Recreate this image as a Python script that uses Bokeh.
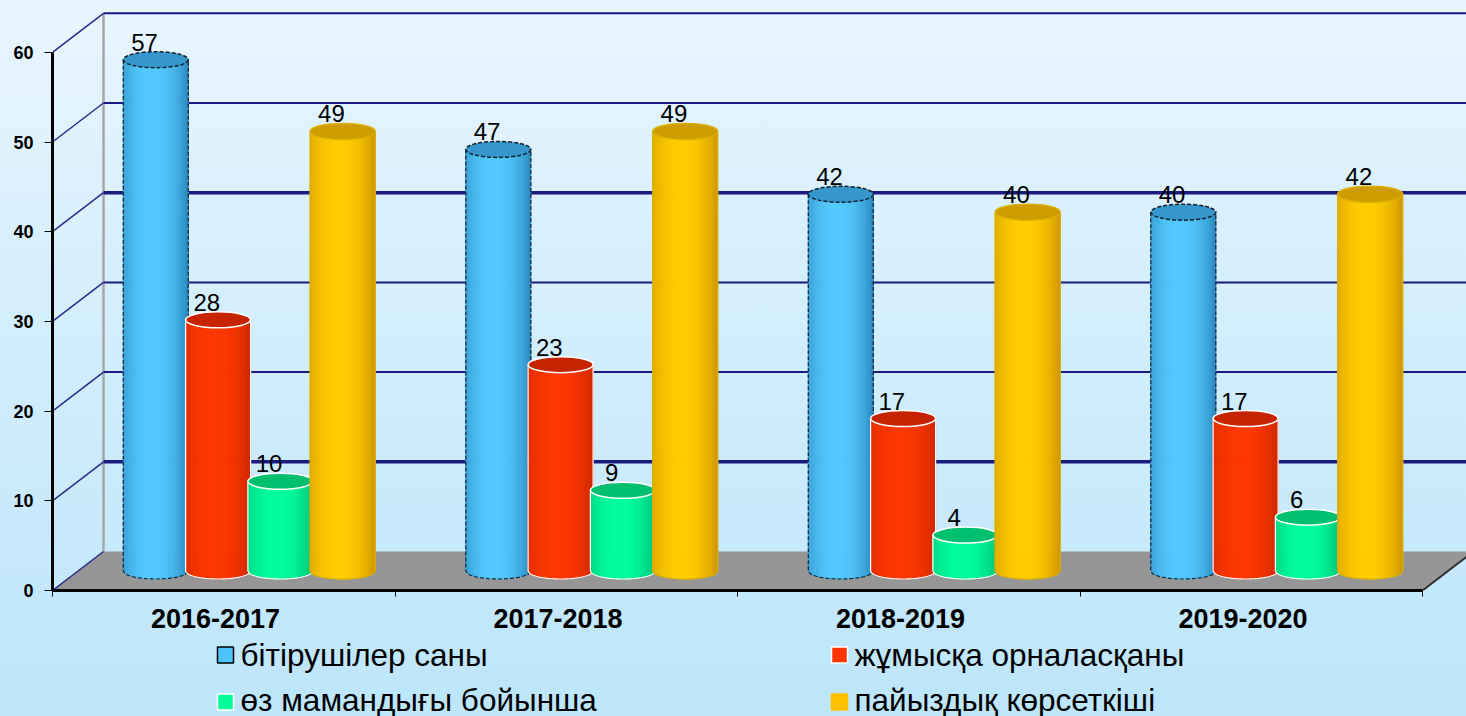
import math
from bokeh.plotting import figure
from bokeh.layouts import column
from bokeh.models import Range1d, FixedTicker
from bokeh.embed import file_html
from bokeh.resources import INLINE
from bokeh.core.properties import value

# ---------------- data ----------------
categories = ["2016-2017", "2017-2018", "2018-2019", "2019-2020"]
series_names = ["бітірушілер саны", "жұмысқа орналасқаны",
                "өз мамандығы бойынша", "пайыздық көрсеткіші"]
graduates = [57, 47, 42, 40]
employed = [28, 23, 17, 17]
by_specialty = [10, 9, 4, 6]
percent = [49, 49, 40, 42]
y_ticks = [0, 10, 20, 30, 40, 50, 60]

series_values = [graduates, employed, by_specialty, percent]

# ---------------- styles ----------------
W, H = 1466, 716
LEG_H = 76
LEFT_PX, AXIS_Y_PX = 52, 590
PX_PER_CAT, PX_PER_VAL = 342.5, 8.97
DX = 51 / PX_PER_CAT          # depth offset, category units
DY = 39 / PX_PER_VAL          # depth offset, value units
CW = 65 / PX_PER_CAT          # cylinder width
SP = 62.3 / PX_PER_CAT        # cylinder spacing
EH = 16 / PX_PER_VAL          # ellipse height
FONT_NAME = "Liberation Sans"
FONT = value(FONT_NAME)

styles = [
    dict(edge=(36, 126, 180), hi=(84, 202, 255), top="#3597cc", line="#14202c", dash="4 2", leg="#4cc3fb", legline="#000000"),
    dict(edge=(200, 38, 0), hi=(255, 56, 0), top="#c62400", line="#ffffff", dash="solid", leg="#ff3300", legline="#ffffff"),
    dict(edge=(0, 182, 108), hi=(0, 255, 158), top="#00c070", line="#ffffff", dash="solid", leg="#00ff99", legline="#ffffff"),
    dict(edge=(200, 142, 0), hi=(255, 206, 0), top="#cc9c00", line="#dcae00", dash="solid", leg="#ffc000", legline="#ffc000"),
]


def shade(edge, hi, t):
    f = max(0.0, 1 - ((t - 0.45) / 0.57) ** 2) ** 0.8
    return "#%02x%02x%02x" % tuple(int(e + (h - e) * f) for e, h in zip(edge, hi))


x_end = (W - LEFT_PX) / PX_PER_CAT
y_end = AXIS_Y_PX / PX_PER_VAL

p = figure(width=W, height=H - LEG_H, output_backend="svg", toolbar_location=None,
           x_range=Range1d(0, x_end), y_range=Range1d(0, y_end),
           min_border_left=LEFT_PX, min_border_right=0, min_border_top=0,
           min_border_bottom=H - LEG_H - AXIS_Y_PX)
p.background_fill_alpha = 0
p.border_fill_alpha = 0
p.outline_line_color = None
p.styles = {"background": "linear-gradient(180deg, #e8f5fe 0%, #d3eefc 50%, #c1e7fb 100%)"}
p.xgrid.visible = False
p.ygrid.visible = False

# back wall left edge
p.segment(x0=[DX], y0=[DY], x1=[DX], y1=[y_ticks[-1] + DY], line_color="#a6a6a6", line_width=2.5)

# back wall gridlines
grid_vals = y_ticks[1:]
p.segment(x0=[DX] * len(grid_vals), y0=[v + DY for v in grid_vals],
          x1=[x_end + 0.2] * len(grid_vals), y1=[v + DY for v in grid_vals],
          line_color="#1a1a80", line_width=[3.5 if v in (10, 40) else 2 for v in grid_vals])

# floor
n = len(categories)
p.patch(x=[0, n, n + DX, DX], y=[0, 0, DY, DY], fill_color="#969696", line_color=None)
p.segment(x0=[n], y0=[0], x1=[n + DX], y1=[DY], line_color="#303030", line_width=2)

# depth diagonals from the front axis
p.segment(x0=[0] * len(y_ticks), y0=y_ticks, x1=[DX] * len(y_ticks), y1=[v + DY for v in y_ticks],
          line_color="#2a2a8a", line_width=1.5)

# cylinders
N = 26
base = DY / 2
for j, vals in enumerate(series_values):
    st = styles[j]
    for i, v in enumerate(vals):
        c = i + 0.5 + (j - 1.5) * SP + DX / 2
        xl, xr = c - CW / 2, c + CW / 2
        top = base + v

        def yb(x, c=c):
            r = (x - c) / (CW / 2)
            return base - (EH / 2) * math.sqrt(max(0.0, 1 - r * r))

        xs, ys, cols = [], [], []
        for k in range(N):
            x0 = xl + k * CW / N
            x1 = xl + (k + 1) * CW / N
            xs.append([x0, x1, x1, x0])
            ys.append([top, top, yb(x1), yb(x0)])
            cols.append(shade(st["edge"], st["hi"], (k + 0.5) / N))
        p.patches(xs=xs, ys=ys, fill_color=cols, line_color=cols, line_width=1)

        bx = [xl + CW * t / 40 for t in range(41)]
        ox = [xl] + bx + [xr]
        oy = [top] + [yb(x) for x in bx] + [top]
        p.line(x=ox, y=oy, line_color=st["line"], line_width=1.2, line_dash=st["dash"])

        p.ellipse(x=[c], y=[top], width=[CW], height=[EH], fill_color=st["top"],
                  line_color=st["line"], line_width=1.5, line_dash=st["dash"])

        p.text(x=[c - 0.033], y=[top + 1.95], text=[str(v)], text_align="center",
               text_baseline="alphabetic", text_font=FONT, text_font_size="24px",
               text_color="#000000")

# axes
yax = p.yaxis[0]
yax.ticker = FixedTicker(ticks=y_ticks)
yax.bounds = (0, y_ticks[-1])
yax.axis_line_width = 3
yax.axis_line_color = "#000000"
yax.major_tick_out = 8
yax.major_tick_in = 0
yax.major_tick_line_color = "#000000"
yax.minor_tick_out = 0
yax.minor_tick_in = 0
yax.major_label_text_font = FONT_NAME
yax.major_label_text_font_style = "bold"
yax.major_label_text_font_size = "18px"
yax.major_label_text_color = "#000000"
yax.major_label_standoff = 11

xax = p.xaxis[0]
xax.ticker = FixedTicker(ticks=[i + 0.5 - 0.024 for i in range(n)], minor_ticks=list(range(n + 1)))
xax.major_label_overrides = {i + 0.5 - 0.024: c for i, c in enumerate(categories)}
xax.bounds = (0, n)
xax.axis_line_width = 3
xax.axis_line_color = "#000000"
xax.major_tick_line_color = None
xax.major_tick_out = 0
xax.major_tick_in = 0
xax.minor_tick_out = 6
xax.minor_tick_in = 0
xax.minor_tick_line_color = "#000000"
xax.major_label_text_font = FONT_NAME
xax.major_label_text_font_style = "bold"
xax.major_label_text_font_size = "27px"
xax.major_label_text_color = "#000000"
xax.major_label_standoff = 12

# ---------------- legend figure (pixel units, frame aligned with the chart) ----------------
pl = figure(width=W, height=LEG_H, output_backend="svg", toolbar_location=None,
            x_range=Range1d(LEFT_PX, W), y_range=Range1d(0, LEG_H),
            x_axis_location=None, y_axis_location=None,
            min_border_left=LEFT_PX, min_border_right=0, min_border_top=0, min_border_bottom=0)
pl.background_fill_alpha = 0
pl.border_fill_alpha = 0
pl.outline_line_color = None
pl.styles = {"background": "linear-gradient(180deg, #c1e7fb 0%, #bde6fb 100%)"}
pl.xgrid.visible = False
pl.ygrid.visible = False

col_x = [217, 831]          # glyph left edge per legend column
row_y = [61.5, 14.5]        # glyph centre per legend row (from bottom)
row_base = [62, 17]         # text anchor per legend row (from bottom)
GL = 16
for j, name in enumerate(series_names):
    st = styles[j]
    gx = col_x[j % 2]
    pl.rect(x=[gx + GL / 2], y=[row_y[j // 2]], width=[GL], height=[GL], fill_color=st["leg"],
            line_color=st["legline"], line_width=1.5)
    pl.text(x=[gx + GL + 7], y=[row_base[j // 2]], text=[name], text_align="left",
            text_baseline="alphabetic", text_font=FONT, text_font_size="31.5px",
            text_color="#000000")

layout = column(p, pl, spacing=0)
open("out.html", "w").write(file_html(layout, INLINE))
